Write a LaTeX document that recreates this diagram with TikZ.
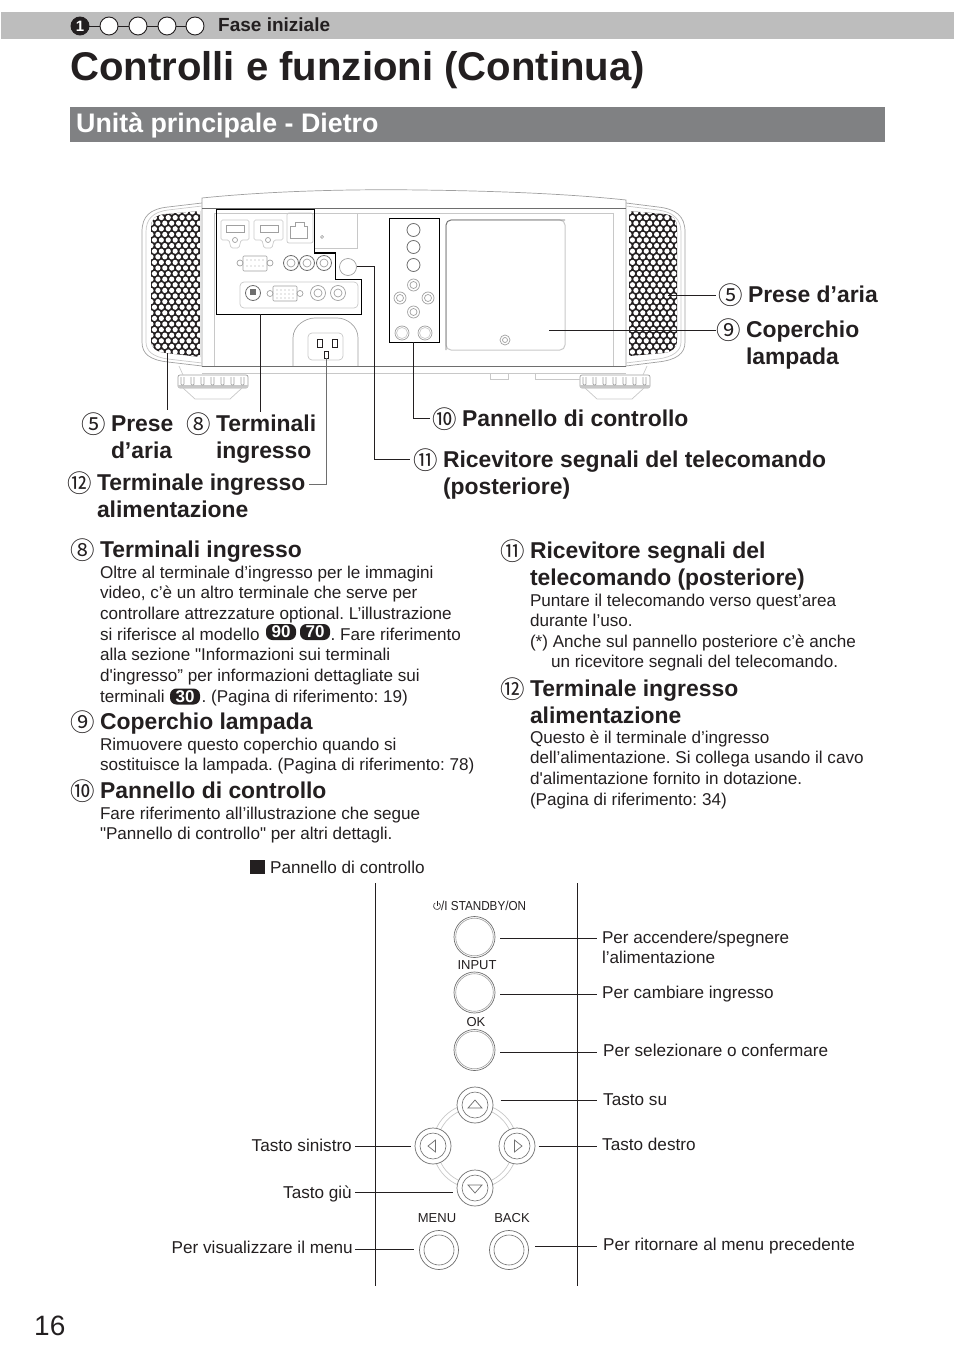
\documentclass[tikz,border=0pt]{standalone}
\usepackage{fontspec}
\usepackage{graphicx}
\setmainfont[Ligatures=TeXOff]{Liberation Sans}
\newfontfamily\cnum{Noto Sans CJK JP}
\definecolor{ink}{HTML}{231F20}
\definecolor{pgray}{HTML}{A0A0A0}
\definecolor{pdark}{HTML}{6E6E6E}
\definecolor{plight}{HTML}{C8C8C8}
\definecolor{barlight}{HTML}{BDBDBD}
\definecolor{bardark}{HTML}{808183}
\newcommand\fs[2]{\fontsize{#1}{#2}\selectfont}
\newcommand\hdtext[4]{\node[hd] (#1) at (#2,{#3-23}) {\rule{0pt}{23pt}#4};}
\newcommand\bdtext[4]{\node[bd] (#1) at (#2,{#3-17.1}) {\rule{0pt}{17.1pt}#4};}
\newcommand\grillfill[2]{%
  \foreach \j in {0,...,27}{\foreach \i in {0,...,8}{%
    \pgfmathsetmacro\gx{#1+\i*6.9+mod(\j,2)*3.45}%
    \pgfmathsetmacro\gy{#2+\j*5.6}%
    \fill[white] (\gx,\gy) circle (2.6);}}}
\tikzset{
  x=1pt,y=-1pt,
  hd/.style={anchor=north west,inner sep=0,outer sep=0,align=left,text=ink,font=\fs{22.9}{27.4}\frenchspacing\bfseries},
  bd/.style={anchor=north west,inner sep=0,outer sep=0,align=left,text=ink,font=\fs{17.1}{20.7}\frenchspacing},
  num/.style={anchor=base west,inner sep=0,yshift=-2pt,text=ink,font=\cnum\fs{24.5}{27}},
  lab/.style={anchor=base west,inner sep=0,text=ink,font=\fs{17.15}{20}\frenchspacing},
  labr/.style={anchor=base east,inner sep=0,text=ink,font=\fs{17.15}{20}\frenchspacing},
  tiny/.style={anchor=base,inner sep=0,text=ink,font=\fs{13}{15}},
  pill/.style={fill=ink,text=white,rounded corners=6.5pt,inner sep=0,minimum width=30pt,minimum height=16pt,font=\fs{17}{17}\bfseries},
  conn/.style={draw=ink,line width=0.9pt},
  pl/.style={draw=pgray,line width=0.7pt},
  pll/.style={draw=plight,line width=0.7pt},
  pd/.style={draw=pdark,line width=0.8pt},
  stepdot/.style={circle,draw=ink,fill=white,line width=0.9pt,minimum size=18pt,inner sep=0},
  btn/.style={circle,draw=pdark,fill=white,line width=0.7pt,inner sep=0},
}
\begin{document}
\begin{tikzpicture}
\useasboundingbox (0,0) rectangle (954,1356);
% header
\fill[barlight] (1,12) rectangle (954,39);
\node[stepdot] (s2) at (109,26) {};
\node[stepdot] (s3) at (138,26) {};
\node[stepdot] (s4) at (167,26) {};
\node[stepdot] (s5) at (195,26) {};
\node[stepdot,fill=ink,text=white,font=\fs{15}{15}\bfseries] (s1) at (80,26) {1};
\draw[conn] (s1)--(s2); \draw[conn] (s2)--(s3); \draw[conn] (s3)--(s4); \draw[conn] (s4)--(s5);
\node[anchor=base west,inner sep=0,text=ink,font=\fs{19}{20}\bfseries] (fase) at (218,32) {Fase iniziale};
\node[anchor=base west,inner sep=0,text=ink,font=\fs{40.1}{42}\bfseries] (title) at (70,81) {Controlli e funzioni (Continua)};
\fill[bardark] (70,107) rectangle (885,142);
\node[anchor=base west,inner sep=0,text=white,font=\fs{26.8}{28}\bfseries] (sect) at (76,133) {Unità principale - Dietro};
% projector body
\draw[pl] (202,366) -- (202,198) .. controls (270,191) and (350,189) .. (420,190) .. controls (500,191) and (570,194) .. (626,200) -- (626,366);
\draw[pd] (202,208) -- (626,208);
\draw[pd] (202,366) -- (626,366);
\draw[pll] (202,373) -- (626,373);
\draw[pll] (214,213) -- (613,213);
\draw[pll] (214,213) -- (214,366);
\draw[pll,line width=1pt] (613,213) -- (613,366);
% shells
\draw[pl] (202,203) -- (168,207) .. controls (150,209) and (142,216) .. (142,232) -- (142,342) .. controls (142,354) and (150,360) .. (168,362) -- (202,366);
\draw[pll] (202,206) -- (168,210) .. controls (153,212) and (146,219) .. (146,232) -- (146,342) .. controls (146,351) and (153,357) .. (168,359) -- (202,363);
\draw[pl] (626,203) -- (658,207) .. controls (676,209) and (685,216) .. (685,232) -- (685,342) .. controls (685,354) and (676,360) .. (658,362) -- (626,366);
\draw[pll] (626,206) -- (658,210) .. controls (673,212) and (681,219) .. (681,232) -- (681,342) .. controls (681,351) and (673,357) .. (658,359) -- (626,363);
% grills
\begin{scope}
\clip (200,211) -- (166,214) .. controls (155,215) and (151,219) .. (151,228) -- (151,340) .. controls (151,348) and (156,352) .. (166,353) -- (200,357) -- cycle;
\fill[ink] (145,205) rectangle (205,360);
\grillfill{151}{212}
\end{scope}
\begin{scope}
\clip (629,211) -- (664,214) .. controls (673,215) and (677,219) .. (677,228) -- (677,340) .. controls (677,348) and (672,352) .. (664,353) -- (629,356) -- cycle;
\fill[ink] (625,205) rectangle (682,360);
\grillfill{629}{212}
\end{scope}
% feet
\foreach \fx in {177,579}{
  \begin{scope}[shift={(\fx,0)}]
  \draw[pl,fill=white,rounded corners=2pt] (1,375) rectangle (71,388);
  \fill[plight] (1,385) rectangle (71,388);
  \foreach \r in {6,16,26,36,46,56,66}{\draw[pl,rounded corners=1pt] (\r-2,377) -- (\r-2,385) -- (\r+1,385) -- (\r+1,377);}
  \draw[pll] (6,388) -- (18,399) -- (53,399) -- (65,388);
  \end{scope}}
\draw[pll] (179,366) -- (183,375);
\draw[pll] (647,366) -- (643,375);
\draw[pll] (490,373) -- (490,379) -- (508,379) -- (508,373);
\draw[pll] (535,373) -- (535,379) -- (580,379);
% terminals
\draw[pll,rounded corners=1.5pt] (221,220) -- (249,220) -- (249,240) -- (241,240) -- (239,248) -- (231,248) -- (229,240) -- (221,240) -- cycle;
\draw[pll,rounded corners=1.5pt] (254,220) -- (283,220) -- (283,240) -- (274,240) -- (272,248) -- (264,248) -- (262,240) -- (254,240) -- cycle;
\draw[pl] (226,225) rectangle (244,232);
\draw[pl] (260,225) rectangle (278,232);
\draw[pl] (235,240) circle (2.5);
\draw[pl] (268,240) circle (2.5);
\draw[pll,rounded corners=2pt] (287,213) rectangle (313,243);
\draw[pl] (290,238) -- (290,226) -- (295,226) -- (295,222) -- (304,222) -- (304,226) -- (307,226) -- (307,238) -- cycle;
\draw[pll] (313,213) -- (357,213) -- (357,248) -- (315,248);
\draw[pl] (322,237) circle (1.5);
\draw[pl,rounded corners=1pt] (243,256) rectangle (267,271);
\draw[pl] (240,263) circle (3); \draw[pl] (270,263) circle (3);
\foreach \px in {247,251,255,259,263}{\fill[pgray] (\px,260) circle (0.7); \fill[pgray] (\px,266) circle (0.7);}
\foreach \px in {291,307,324}{\draw[pd] (\px,263) circle (7.5); \draw[pl] (\px,263) circle (4);}
\draw[pll,rounded corners=4pt] (240,282) rectangle (358,308);
\draw[pd] (253,293) circle (7.5);
\fill[pdark] (250,289) rectangle (256,295);
\draw[pl,rounded corners=1pt] (273,286) rectangle (297,301);
\draw[pl] (270,293.5) circle (3); \draw[pl] (300,293.5) circle (3);
\foreach \px in {277,281,285,289,293}{\foreach \py in {290,294,298}{\fill[pgray] (\px,\py) circle (0.6);}}
\foreach \px in {318,338}{\draw[pl] (\px,293) circle (7.5); \draw[pl] (\px,293) circle (4);}
\draw[pl] (348,267) circle (8.5);
% power socket
\draw[pl] (293,366) -- (293,338) .. controls (293,326) and (305,318) .. (315,318) -- (337,318) .. controls (347,318) and (358,326) .. (358,338) -- (358,366);
\draw[pll,rounded corners=4pt] (308,333) rectangle (343,360);
\draw[draw=ink,line width=0.9pt] (317,339) rectangle (322,347);
\draw[draw=ink,line width=0.9pt] (332,339) rectangle (337,347);
\draw[draw=ink,line width=0.9pt] (324,351) rectangle (328,358);
% mini control panel
\foreach \py in {230,247,265}{\draw[pd] (413.5,\py) circle (6.5);}
\foreach \px/\py in {413.5/285,400/298,428/298,413.5/312}{\draw[pl] (\px,\py) circle (6); \draw[pl] (\px,\py) circle (3.5);}
\foreach \px in {402,425}{\draw[pl] (\px,333) circle (7); \draw[pll] (\px,333) circle (5.5);}
% lamp cover
\draw[pll,rounded corners=5pt,line width=1pt] (446,220) rectangle (565,350);
\draw[pd,rounded corners=5pt] (446,350) -- (446,220) -- (565,220);
\draw[pl] (505,340) circle (5); \draw[pl] (505,340) circle (2.5);
% black frames
\draw[draw=black,line width=1pt] (216,210) -- (314,210) -- (314,253) -- (335,253) -- (335,279) -- (361,279) -- (361,314) -- (216,314) -- cycle;
\draw[draw=black,line width=1pt] (389,219) rectangle (439,342);
% projector labels
\node[num] (l5a) at (81,431) {⑤};
\hdtext{l5t}{111}{431}{Prese\\d’aria}
\node[num] (l8) at (186,431) {⑧};
\hdtext{l8t}{216}{431}{Terminali\\ingresso}
\node[num] (l12) at (67,490) {⑫};
\hdtext{l12t}{97}{490}{Terminale ingresso\\alimentazione}
\node[num] (l10) at (432,426) {⑩};
\hdtext{l10t}{462}{426}{Pannello di controllo}
\node[num] (l11) at (413,467) {⑪};
\hdtext{l11t}{443}{467}{Ricevitore segnali del telecomando\\(posteriore)}
\node[num] (l5b) at (718,302) {⑤};
\hdtext{l5bt}{748}{302}{Prese d’aria}
\node[num] (l9) at (716,337) {⑨};
\hdtext{l9t}{746}{337}{Coperchio\\lampada}
% projector connectors
\coordinate (c5a) at (167,353); \coordinate (c5ae) at (167,410);
\coordinate (c8) at (260,314); \coordinate (c8e) at (260,412);
\coordinate (c12) at (326,358); \coordinate (c12k) at (326,484); \coordinate (c12e) at (309,484);
\coordinate (c11) at (357,266); \coordinate (c11a) at (374,266); \coordinate (c11b) at (374,459); \coordinate (c11e) at (410,459);
\coordinate (c10) at (413,342); \coordinate (c10a) at (413,418); \coordinate (c10e) at (430,418);
\coordinate (c5b) at (668,295); \coordinate (c5be) at (716,295);
\coordinate (c9) at (549,330); \coordinate (c9e) at (716,330);
\draw[conn] (c5a) -- (c5ae);
\draw[conn] (c8) -- (c8e);
\draw[draw=pdark,line width=1pt] (c12) -- (c12k) -- (c12e);
\draw[conn] (c11) -- (c11a) -- (c11b) -- (c11e);
\draw[conn] (c10) -- (c10a) -- (c10e);
\draw[conn] (c5b) -- (c5be);
\draw[conn] (c9) -- (c9e);
% left column
\node[num] (h8) at (70,557) {⑧};
\hdtext{h8t}{100}{557}{Terminali ingresso}
\bdtext{b8}{100}{578}{Oltre al terminale d’ingresso per le immagini\\video, c’è un altro terminale che serve per\\controllare attrezzature optional. L’illustrazione\\si riferisce al modello\hspace{71pt}. Fare riferimento\\alla sezione "Informazioni sui terminali\\d'ingresso” per informazioni dettagliate sui\\terminali\hspace{37pt}. (Pagina di riferimento: 19)}
\node[pill] (p90) at (281,632) {90};
\node[pill] (p70) at (315,632) {70};
\node[pill] (p30) at (185,696.5) {30};
\node[num] (h9) at (70,729) {⑨};
\hdtext{h9t}{100}{729}{Coperchio lampada}
\bdtext{b9}{100}{750}{Rimuovere questo coperchio quando si\\sostituisce la lampada. (Pagina di riferimento: 78)}
\node[num] (h10) at (70,798) {⑩};
\hdtext{h10t}{100}{798}{Pannello di controllo}
\bdtext{b10}{100}{819}{Fare riferimento all’illustrazione che segue\\"Pannello di controllo" per altri dettagli.}
% right column
\node[num] (h11) at (500,558) {⑪};
\hdtext{h11t}{530}{558}{Ricevitore segnali del\\telecomando (posteriore)}
\bdtext{b11}{530}{606}{Puntare il telecomando verso quest’area\\durante l’uso.}
\bdtext{b11b}{530}{647}{(*) Anche sul pannello posteriore c’è anche\\\hspace*{21pt}un ricevitore segnali del telecomando.}
\node[num] (h12) at (500,696) {⑫};
\hdtext{h12t}{530}{696}{Terminale ingresso\\alimentazione}
\bdtext{b12}{530}{743}{Questo è il terminale d’ingresso\\dell’alimentazione. Si collega usando il cavo\\d'alimentazione fornito in dotazione.\\(Pagina di riferimento: 34)}
% control panel figure
\fill[ink] (250,860) rectangle (265,874);
\node[lab] (ptitle) at (270,873) {Pannello di controllo};
\coordinate (vl1) at (375,883); \coordinate (vl2) at (375,1286);
\coordinate (vr1) at (577,883); \coordinate (vr2) at (577,1286);
\draw[draw=ink,line width=0.8pt] (vl1) -- (vl2);
\draw[draw=ink,line width=0.8pt] (vr1) -- (vr2);
% ring
\draw[pll] (475,1146) circle (42.5);
\draw[pll] (475,1146) circle (38);
% big buttons
\foreach \nm/\py in {bstandby/937,binput/992.5,bok/1050}{
  \node[btn,minimum size=41pt] (\nm) at (474.5,\py) {};
  \draw[pgray,line width=0.6pt] (474.5,\py) circle (18.8);}
\foreach \nm/\px/\py in {bup/475/1105,bleft/433/1146,bright/517/1146,bdown/475/1188}{
  \node[btn,minimum size=36pt] (\nm) at (\px,\py) {};
  \draw[pd,line width=0.6pt] (\px,\py) circle (13);}
\foreach \nm/\px in {bmenu/439,bback/509}{
  \node[btn,minimum size=39pt] (\nm) at (\px,1250) {};
  \draw[pd,line width=0.6pt] (\px,1250) circle (15);}
\draw[pdark,line width=0.7pt] (468,1108) -- (475,1100) -- (482,1108) -- cycle;
\draw[pdark,line width=0.7pt] (468,1185) -- (475,1193) -- (482,1185) -- cycle;
\draw[pdark,line width=0.7pt] (435.5,1140) -- (428,1146) -- (435.5,1152) -- cycle;
\draw[pdark,line width=0.7pt] (514.5,1140) -- (522,1146) -- (514.5,1152) -- cycle;
% button captions
\draw[ink,line width=0.6pt] (438.75,902.97) arc[start angle=-60,end angle=240,radius=3.5];
\draw[ink,line width=0.6pt] (437,900.5) -- (437,905.5);
\node[tiny,anchor=base west] (cstandby) at (441,910) {\scalebox{0.9}[1]{/I STANDBY/ON}};
\node[tiny] (cinput) at (477,969) {INPUT};
\node[tiny] (cok) at (476,1026) {OK};
\node[tiny] (cmenu) at (437,1222) {MENU};
\node[tiny] (cback) at (512,1222) {BACK};
% control panel labels and leaders
\coordinate (r1) at (597,938); \coordinate (r2) at (597,994); \coordinate (r3) at (597,1052);
\coordinate (r4) at (597,1100); \coordinate (r5) at (597,1146); \coordinate (r6) at (597,1246);
\coordinate (l1) at (355,1146); \coordinate (l2) at (355,1192.5); \coordinate (l3) at (355,1249.5);
\coordinate (a1) at (500,938); \coordinate (a2) at (500,994); \coordinate (a3) at (500,1052);
\coordinate (a4) at (500.5,1100); \coordinate (a5) at (538.5,1146); \coordinate (a6) at (535,1246);
\coordinate (a7) at (411,1146); \coordinate (a8) at (453,1192.5); \coordinate (a9) at (414,1249.5);
\foreach \u/\v in {a1/r1,a2/r2,a3/r3,a4/r4,a5/r5,a6/r6,l1/a7,l2/a8,l3/a9}{\draw[draw=ink,line width=0.8pt] (\u) -- (\v);}
\node[bd] (t1) at (602,{943-17.1}) {\rule{0pt}{17.1pt}Per accendere/spegnere\\l’alimentazione};
\node[lab] (t2) at (602,998) {Per cambiare ingresso};
\node[lab] (t3) at (603,1056) {Per selezionare o confermare};
\node[lab] (t4) at (603,1105) {Tasto su};
\node[lab] (t5) at (602,1150) {Tasto destro};
\node[lab] (t6) at (603,1250) {Per ritornare al menu precedente};
\node[labr] (t7) at (352,1151) {Tasto sinistro};
\node[labr] (t8) at (352,1198) {Tasto giù};
\node[labr] (t9) at (353,1253) {Per visualizzare il menu};
\node[anchor=base west,inner sep=0,text=ink,font=\fs{28}{30}] (pg) at (34,1335) {16};
\end{tikzpicture}
\end{document}
